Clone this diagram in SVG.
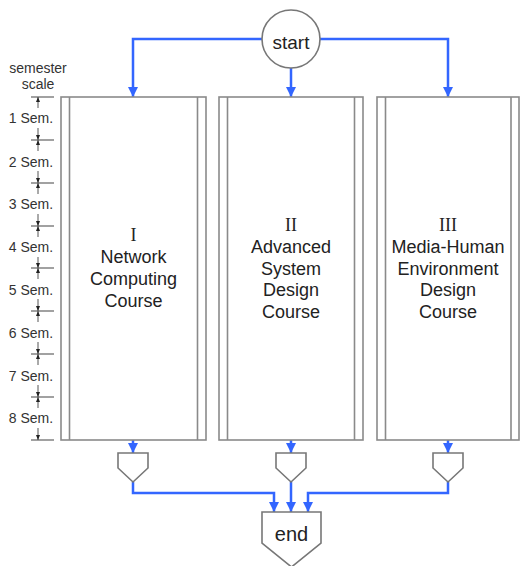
<svg xmlns="http://www.w3.org/2000/svg" width="521" height="566" viewBox="0 0 521 566">
<style>
.box{fill:#fff;stroke:#8a8a8a;stroke-width:1.6}
.inner{stroke:#8a8a8a;stroke-width:1.6}
.node{fill:#fff;stroke:#777;stroke-width:1.6}
.conn{fill:none;stroke:#3366ff;stroke-width:2.5}
.t{font-family:"Liberation Sans",Arial,sans-serif;font-size:18px;fill:#222;text-anchor:middle}
.r{font-family:"Liberation Serif","Times New Roman",serif;font-size:18px;fill:#222;text-anchor:middle}
.s{font-family:"Liberation Sans",Arial,sans-serif;font-size:14px;fill:#333;text-anchor:middle}
.tick{stroke:#8a8a8a;stroke-width:1.6}
.dim{stroke:#555;stroke-width:1}
</style>
<defs>
<marker id="ah" viewBox="0 0 10 10" refX="10" refY="5" markerWidth="4" markerHeight="4" orient="auto" markerUnits="strokeWidth">
<path d="M0,0 L10,5 L0,10 z" fill="#3366ff"/>
</marker>
<marker id="dh" viewBox="0 0 10 10" refX="10" refY="5" markerWidth="5" markerHeight="5" orient="auto" markerUnits="strokeWidth">
<path d="M0,1 L10,5 L0,9 z" fill="#222"/>
</marker>
</defs>

<g id="scale">
<text class="s" x="38" y="73">semester</text>
<text class="s" x="38" y="89">scale</text>
<g class="ticks">
<line class="tick" x1="31" y1="97" x2="54" y2="97"/>
<line class="tick" x1="31" y1="140" x2="54" y2="140"/>
<line class="tick" x1="31" y1="183" x2="54" y2="183"/>
<line class="tick" x1="31" y1="226" x2="54" y2="226"/>
<line class="tick" x1="31" y1="268" x2="54" y2="268"/>
<line class="tick" x1="31" y1="311" x2="54" y2="311"/>
<line class="tick" x1="31" y1="354" x2="54" y2="354"/>
<line class="tick" x1="31" y1="397" x2="54" y2="397"/>
<line class="tick" x1="31" y1="440" x2="54" y2="440"/>
</g>
<g class="dims">
<line class="dim" x1="38" y1="108" x2="38" y2="97" marker-end="url(#dh)"/>
<line class="dim" x1="38" y1="128" x2="38" y2="140" marker-end="url(#dh)"/>
<line class="dim" x1="38" y1="151" x2="38" y2="140" marker-end="url(#dh)"/>
<line class="dim" x1="38" y1="171" x2="38" y2="183" marker-end="url(#dh)"/>
<line class="dim" x1="38" y1="194" x2="38" y2="183" marker-end="url(#dh)"/>
<line class="dim" x1="38" y1="214" x2="38" y2="226" marker-end="url(#dh)"/>
<line class="dim" x1="38" y1="237" x2="38" y2="226" marker-end="url(#dh)"/>
<line class="dim" x1="38" y1="257" x2="38" y2="268" marker-end="url(#dh)"/>
<line class="dim" x1="38" y1="279" x2="38" y2="268" marker-end="url(#dh)"/>
<line class="dim" x1="38" y1="299" x2="38" y2="311" marker-end="url(#dh)"/>
<line class="dim" x1="38" y1="322" x2="38" y2="311" marker-end="url(#dh)"/>
<line class="dim" x1="38" y1="342" x2="38" y2="354" marker-end="url(#dh)"/>
<line class="dim" x1="38" y1="365" x2="38" y2="354" marker-end="url(#dh)"/>
<line class="dim" x1="38" y1="385" x2="38" y2="397" marker-end="url(#dh)"/>
<line class="dim" x1="38" y1="408" x2="38" y2="397" marker-end="url(#dh)"/>
<line class="dim" x1="38" y1="428" x2="38" y2="440" marker-end="url(#dh)"/>
</g>
<text class="s" x="31" y="123">1 Sem.</text>
<text class="s" x="31" y="167">2 Sem.</text>
<text class="s" x="31" y="209">3 Sem.</text>
<text class="s" x="31" y="252">4 Sem.</text>
<text class="s" x="31" y="295">5 Sem.</text>
<text class="s" x="31" y="338">6 Sem.</text>
<text class="s" x="31" y="381">7 Sem.</text>
<text class="s" x="31" y="423">8 Sem.</text>
</g>

<g id="connectors">
<path class="conn" d="M262,39 H133 V97" marker-end="url(#ah)"/>
<path class="conn" d="M291,68 V97" marker-end="url(#ah)"/>
<path class="conn" d="M320,39 H448 V97" marker-end="url(#ah)"/>
<path class="conn" d="M133,440 V453" marker-end="url(#ah)"/>
<path class="conn" d="M291,440 V453" marker-end="url(#ah)"/>
<path class="conn" d="M448,440 V453" marker-end="url(#ah)"/>
<path class="conn" d="M133,482 V493 H274 V512" marker-end="url(#ah)"/>
<path class="conn" d="M291,482 V512" marker-end="url(#ah)"/>
<path class="conn" d="M448,482 V493 H308 V512" marker-end="url(#ah)"/>
</g>

<g id="start">
<circle class="node" cx="291" cy="39" r="29"/>
<text class="t" x="291" y="49" style="font-size:19px">start</text>
</g>

<g id="course1">
<rect class="box" x="61" y="97" width="145" height="343"/>
<line class="inner" x1="69.5" y1="97" x2="69.5" y2="440"/>
<line class="inner" x1="197.5" y1="97" x2="197.5" y2="440"/>
<text class="r" x="133.5" y="241">I</text>
<text class="t" x="133.5" y="263">Network</text>
<text class="t" x="133.5" y="285">Computing</text>
<text class="t" x="133.5" y="307">Course</text>
</g>

<g id="course2">
<rect class="box" x="219" y="97" width="144" height="343"/>
<line class="inner" x1="227.5" y1="97" x2="227.5" y2="440"/>
<line class="inner" x1="354.5" y1="97" x2="354.5" y2="440"/>
<text class="r" x="291" y="231">II</text>
<text class="t" x="291" y="253">Advanced</text>
<text class="t" x="291" y="274.5">System</text>
<text class="t" x="291" y="296">Design</text>
<text class="t" x="291" y="317.5">Course</text>
</g>

<g id="course3">
<rect class="box" x="377" y="97" width="142" height="343"/>
<line class="inner" x1="385.5" y1="97" x2="385.5" y2="440"/>
<line class="inner" x1="511" y1="97" x2="511" y2="440"/>
<text class="r" x="448" y="231">III</text>
<text class="t" x="448" y="253">Media-Human</text>
<text class="t" x="448" y="274.5">Environment</text>
<text class="t" x="448" y="296">Design</text>
<text class="t" x="448" y="317.5">Course</text>
</g>

<g id="merge1"><polygon class="node" points="118,453 148,453 148,468 133,482 118,468"/></g>
<g id="merge2"><polygon class="node" points="276,453 306,453 306,468 291,482 276,468"/></g>
<g id="merge3"><polygon class="node" points="433,453 463,453 463,468 448,482 433,468"/></g>

<g id="end">
<polygon class="node" points="262,512 321,512 321,543 291.5,567 262,543"/>
<text class="t" x="291.5" y="541" style="font-size:20px">end</text>
</g>
</svg>
